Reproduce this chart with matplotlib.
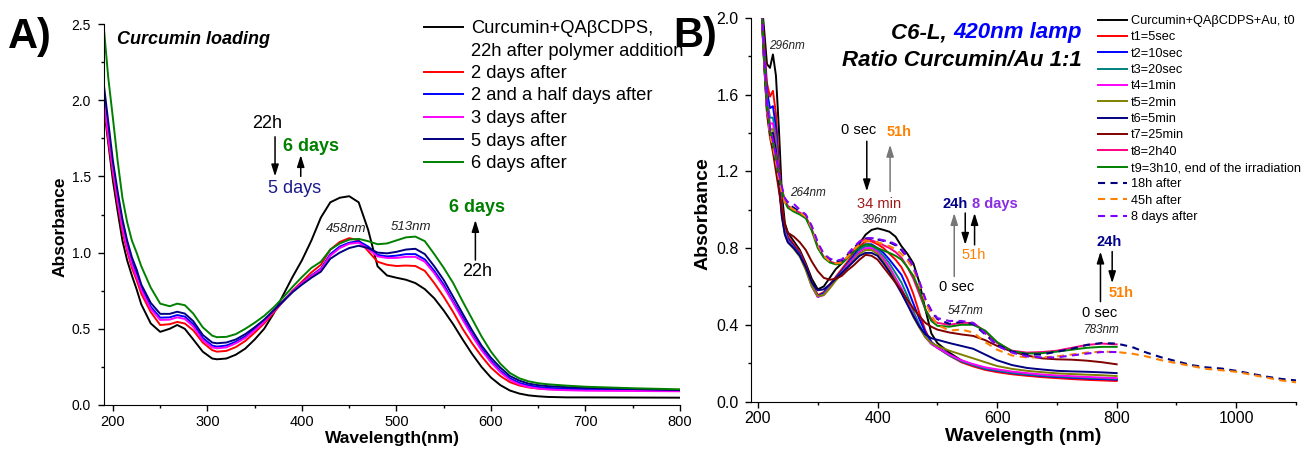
import matplotlib
matplotlib.use("Agg")
import matplotlib.pyplot as plt
from matplotlib.lines import Line2D
from matplotlib.ticker import MultipleLocator, FormatStrFormatter

plt.rcParams['font.family'] = ['Liberation Sans', 'DejaVu Sans']

# ---------------- panel A data ----------------
wl_a = [190, 195, 200, 205, 210, 215, 220, 225, 230, 240, 250, 260, 268, 276, 285, 295, 305, 310,
        320, 330, 340, 350, 360, 370, 380, 390, 400, 410, 420, 430, 440, 450, 460, 470, 480, 490, 500,
        510, 520, 530, 540, 550, 560, 570, 580, 590, 600, 610, 620, 630, 640, 650, 660, 680, 700, 750, 800]

a_22h = [1.98, 1.72, 1.47, 1.27, 1.08, 0.95, 0.85, 0.76, 0.66, 0.535, 0.48, 0.50, 0.525, 0.50, 0.43, 0.35, 0.305, 0.30,
         0.305, 0.33, 0.37, 0.43, 0.50, 0.60, 0.72, 0.84, 0.95, 1.08, 1.23, 1.33, 1.36, 1.37, 1.33, 1.15, 0.91, 0.85, 0.835,
         0.822, 0.80, 0.76, 0.70, 0.62, 0.53, 0.43, 0.335, 0.25, 0.18, 0.13, 0.095, 0.075, 0.063, 0.057, 0.053, 0.05, 0.05, 0.049, 0.048]
a_2d = [2.00, 1.74, 1.52, 1.32, 1.14, 1.01, 0.90, 0.82, 0.73, 0.61, 0.525, 0.53, 0.545, 0.535, 0.49, 0.41, 0.36, 0.35,
        0.355, 0.38, 0.42, 0.475, 0.535, 0.605, 0.68, 0.75, 0.81, 0.87, 0.92, 1.02, 1.07, 1.095, 1.08, 1.01, 0.94, 0.92, 0.912,
        0.915, 0.912, 0.88, 0.80, 0.71, 0.61, 0.50, 0.405, 0.32, 0.245, 0.19, 0.15, 0.128, 0.115, 0.108, 0.104, 0.10, 0.098, 0.096, 0.094]
a_2_5d = [2.05, 1.80, 1.56, 1.36, 1.18, 1.05, 0.94, 0.86, 0.77, 0.645, 0.573, 0.575, 0.59, 0.58, 0.53, 0.44, 0.39, 0.383,
          0.39, 0.415, 0.45, 0.50, 0.555, 0.62, 0.68, 0.745, 0.80, 0.85, 0.895, 0.99, 1.04, 1.065, 1.075, 1.04, 0.985, 0.975, 0.98,
          0.99, 0.99, 0.955, 0.88, 0.79, 0.68, 0.575, 0.465, 0.37, 0.29, 0.225, 0.175, 0.145, 0.128, 0.118, 0.112, 0.107, 0.104, 0.10, 0.096]
a_3d = [2.02, 1.77, 1.54, 1.34, 1.16, 1.03, 0.92, 0.84, 0.755, 0.63, 0.558, 0.56, 0.575, 0.565, 0.515, 0.425, 0.378, 0.372,
        0.378, 0.405, 0.44, 0.49, 0.545, 0.615, 0.68, 0.745, 0.80, 0.845, 0.89, 0.98, 1.03, 1.058, 1.065, 1.025, 0.975, 0.965, 0.965,
        0.972, 0.972, 0.94, 0.865, 0.775, 0.67, 0.56, 0.455, 0.36, 0.28, 0.215, 0.165, 0.135, 0.118, 0.108, 0.102, 0.097, 0.094, 0.092, 0.09]
a_5d = [2.12, 1.86, 1.60, 1.40, 1.22, 1.08, 0.97, 0.89, 0.79, 0.67, 0.598, 0.598, 0.612, 0.60, 0.55, 0.46, 0.41, 0.405,
        0.41, 0.43, 0.465, 0.51, 0.56, 0.62, 0.68, 0.74, 0.79, 0.835, 0.875, 0.96, 1.00, 1.03, 1.045, 1.03, 1.00, 0.995, 1.005,
        1.02, 1.025, 0.99, 0.91, 0.82, 0.71, 0.60, 0.49, 0.39, 0.31, 0.245, 0.19, 0.16, 0.14, 0.13, 0.124, 0.117, 0.112, 0.105, 0.098]
a_6d = [2.50, 2.15, 1.88, 1.60, 1.36, 1.20, 1.08, 1.00, 0.91, 0.77, 0.665, 0.648, 0.665, 0.655, 0.60, 0.51, 0.455, 0.445,
        0.447, 0.465, 0.50, 0.54, 0.585, 0.64, 0.705, 0.775, 0.84, 0.90, 0.94, 1.02, 1.06, 1.085, 1.09, 1.075, 1.055, 1.06, 1.08,
        1.10, 1.105, 1.075, 0.99, 0.90, 0.80, 0.68, 0.565, 0.45, 0.35, 0.27, 0.21, 0.175, 0.155, 0.143, 0.136, 0.127, 0.12, 0.11, 0.103]

a_series = [a_22h, a_2d, a_2_5d, a_3d, a_5d, a_6d]
a_colors = ['#000000', '#ff0000', '#0000ff', '#ff00ff', '#000080', '#008000']
a_labels = ['Curcumin+QA\u03b2CDPS,', '2 days after', '2 and a half days after',
            '3 days after', '5 days after', '6 days after']

# ---------------- panel B data ----------------
wl_b = [205, 210, 215, 220, 225, 230, 235, 240, 245, 250, 260, 270, 280, 290, 300, 310, 320, 330, 340,
        350, 360, 370, 380, 390, 400, 410, 420, 430, 440, 450, 460, 470, 480, 490, 500,
        520, 540, 560, 580, 600, 625, 650, 675, 700, 725, 750, 775, 800]
wl_b_ext = [825, 850, 875, 900, 925, 950, 975, 1000, 1025, 1050, 1075, 1100]

b_t0 = [2.12, 1.95, 1.76, 1.74, 1.81, 1.70, 1.42, 1.08, 0.93, 0.88, 0.835, 0.79, 0.72, 0.64, 0.585, 0.60, 0.645, 0.69, 0.72,
        0.75, 0.785, 0.825, 0.87, 0.895, 0.903, 0.895, 0.885, 0.86, 0.81, 0.77, 0.72, 0.62, 0.48, 0.355, 0.305,
        0.255, 0.215, 0.19, 0.175, 0.163, 0.152, 0.143, 0.136, 0.131, 0.126, 0.122, 0.118, 0.115]
b_t1 = [2.10, 1.88, 1.66, 1.59, 1.62, 1.50, 1.25, 1.02, 0.91, 0.86, 0.82, 0.78, 0.71, 0.62, 0.555, 0.57, 0.61, 0.65, 0.69,
        0.73, 0.77, 0.81, 0.835, 0.835, 0.82, 0.80, 0.77, 0.74, 0.70, 0.64, 0.56, 0.46, 0.37, 0.31, 0.28,
        0.24, 0.205, 0.183, 0.165, 0.153, 0.142, 0.134, 0.127, 0.122, 0.117, 0.113, 0.11, 0.107]
b_t2 = [2.10, 1.85, 1.62, 1.53, 1.54, 1.43, 1.20, 1.00, 0.90, 0.85, 0.81, 0.77, 0.70, 0.61, 0.55, 0.565, 0.605, 0.645, 0.68,
        0.72, 0.76, 0.80, 0.82, 0.82, 0.80, 0.775, 0.74, 0.70, 0.66, 0.59, 0.51, 0.43, 0.36, 0.31, 0.285,
        0.245, 0.21, 0.19, 0.17, 0.16, 0.148, 0.14, 0.133, 0.128, 0.124, 0.12, 0.117, 0.114]
b_t3 = [2.10, 1.83, 1.58, 1.48, 1.48, 1.38, 1.18, 0.99, 0.89, 0.84, 0.805, 0.765, 0.695, 0.605, 0.545, 0.56, 0.60, 0.64, 0.675,
        0.715, 0.75, 0.79, 0.81, 0.81, 0.79, 0.76, 0.72, 0.67, 0.62, 0.55, 0.47, 0.40, 0.34, 0.30, 0.28,
        0.24, 0.21, 0.19, 0.172, 0.162, 0.15, 0.142, 0.136, 0.131, 0.127, 0.124, 0.121, 0.118]
b_t4 = [2.10, 1.82, 1.56, 1.45, 1.45, 1.35, 1.16, 0.98, 0.88, 0.835, 0.80, 0.76, 0.69, 0.60, 0.545, 0.555, 0.595, 0.635, 0.67,
        0.71, 0.745, 0.78, 0.80, 0.80, 0.78, 0.745, 0.70, 0.645, 0.59, 0.52, 0.45, 0.39, 0.335, 0.30, 0.28,
        0.245, 0.215, 0.195, 0.178, 0.168, 0.156, 0.148, 0.141, 0.136, 0.132, 0.128, 0.125, 0.122]
b_t5 = [2.10, 1.80, 1.54, 1.42, 1.42, 1.33, 1.14, 0.97, 0.87, 0.83, 0.795, 0.755, 0.685, 0.60, 0.55, 0.555, 0.59, 0.63, 0.665,
        0.70, 0.735, 0.77, 0.79, 0.79, 0.77, 0.73, 0.685, 0.63, 0.57, 0.51, 0.44, 0.385, 0.335, 0.305, 0.29,
        0.265, 0.245, 0.225, 0.205, 0.185, 0.17, 0.16, 0.153, 0.147, 0.143, 0.14, 0.137, 0.133]
b_t6 = [2.10, 1.78, 1.52, 1.40, 1.40, 1.31, 1.13, 0.96, 0.87, 0.83, 0.80, 0.76, 0.70, 0.62, 0.58, 0.585, 0.61, 0.64, 0.67,
        0.70, 0.73, 0.76, 0.775, 0.775, 0.76, 0.72, 0.675, 0.62, 0.565, 0.505, 0.445, 0.39, 0.35, 0.33, 0.322,
        0.305, 0.29, 0.275, 0.245, 0.215, 0.19, 0.175, 0.167, 0.16, 0.157, 0.155, 0.152, 0.148]
b_t7 = [2.10, 1.78, 1.50, 1.38, 1.30, 1.20, 1.10, 1.00, 0.92, 0.88, 0.86, 0.83, 0.79, 0.73, 0.68, 0.645, 0.635, 0.64, 0.655,
        0.685, 0.71, 0.74, 0.765, 0.76, 0.74, 0.70, 0.66, 0.62, 0.58, 0.53, 0.485, 0.445, 0.41, 0.39, 0.375,
        0.36, 0.35, 0.342, 0.32, 0.29, 0.26, 0.24, 0.225, 0.22, 0.218, 0.213, 0.205, 0.194]
b_t8 = [2.10, 1.80, 1.55, 1.42, 1.36, 1.28, 1.19, 1.11, 1.05, 1.02, 1.00, 0.985, 0.965, 0.90, 0.81, 0.755, 0.73, 0.72, 0.725,
        0.755, 0.79, 0.83, 0.848, 0.84, 0.83, 0.815, 0.80, 0.78, 0.75, 0.70, 0.64, 0.56, 0.48, 0.43, 0.41,
        0.40, 0.41, 0.41, 0.365, 0.305, 0.265, 0.255, 0.258, 0.265, 0.28, 0.295, 0.302, 0.298]
b_t9 = [2.10, 1.80, 1.54, 1.41, 1.35, 1.27, 1.18, 1.10, 1.04, 1.01, 0.99, 0.975, 0.955, 0.89, 0.80, 0.75, 0.725, 0.715, 0.72,
        0.75, 0.78, 0.805, 0.82, 0.815, 0.80, 0.787, 0.775, 0.76, 0.74, 0.70, 0.655, 0.58, 0.48, 0.42, 0.395,
        0.39, 0.40, 0.40, 0.37, 0.31, 0.262, 0.25, 0.252, 0.26, 0.27, 0.28, 0.285, 0.285]
b_18h = [2.10, 1.80, 1.53, 1.40, 1.34, 1.26, 1.17, 1.10, 1.05, 1.03, 1.01, 0.99, 0.97, 0.91, 0.82, 0.765, 0.74, 0.73, 0.735,
         0.765, 0.80, 0.83, 0.85, 0.85, 0.845, 0.838, 0.83, 0.815, 0.79, 0.75, 0.70, 0.62, 0.53, 0.47, 0.43,
         0.405, 0.415, 0.405, 0.35, 0.295, 0.26, 0.245, 0.245, 0.26, 0.275, 0.295, 0.305, 0.302,
         0.285, 0.255, 0.23, 0.21, 0.19, 0.178, 0.172, 0.16, 0.145, 0.13, 0.118, 0.11]
b_45h = [2.10, 1.80, 1.52, 1.39, 1.33, 1.25, 1.16, 1.09, 1.04, 1.02, 1.00, 0.985, 0.965, 0.905, 0.815, 0.76, 0.73, 0.72, 0.725,
         0.755, 0.79, 0.82, 0.84, 0.835, 0.83, 0.82, 0.81, 0.795, 0.77, 0.735, 0.69, 0.61, 0.52, 0.45, 0.40,
         0.37, 0.375, 0.36, 0.31, 0.27, 0.24, 0.23, 0.23, 0.235, 0.245, 0.255, 0.26, 0.258,
         0.25, 0.235, 0.215, 0.20, 0.185, 0.17, 0.163, 0.155, 0.14, 0.125, 0.11, 0.10]
b_8d = [2.10, 1.82, 1.55, 1.42, 1.36, 1.28, 1.19, 1.12, 1.06, 1.04, 1.03, 1.00, 0.975, 0.915, 0.83, 0.77, 0.745, 0.735, 0.74,
        0.77, 0.805, 0.835, 0.852, 0.852, 0.848, 0.84, 0.835, 0.82, 0.795, 0.755, 0.705, 0.625, 0.535, 0.475, 0.435,
        0.42, 0.42, 0.41, 0.355, 0.29, 0.255, 0.235, 0.23, 0.23, 0.24, 0.25, 0.258, 0.258]

b_solid = [b_t0, b_t1, b_t2, b_t3, b_t4, b_t5, b_t6, b_t7, b_t8, b_t9]
b_solid_colors = ['#000000', '#ff0000', '#0000ff', '#008080', '#ff00ff', '#808000',
                  '#000080', '#800000', '#ff0080', '#008000']
b_solid_labels = ['Curcumin+QA\u03b2CDPS+Au, t0', 't1=5sec', 't2=10sec', 't3=20sec', 't4=1min',
                  't5=2min', 't6=5min', 't7=25min', 't8=2h40', 't9=3h10, end of the irradiation']
b_dash_colors = ['#000080', '#ff8000', '#8000ff']
b_dash_labels = ['18h after', '45h after', '8 days after']

fig = plt.figure(figsize=(13.01, 4.5), dpi=100)
ax_a = fig.add_axes([103.5 / 1301, 1 - 405 / 450, 576.5 / 1301, 381 / 450])
ax_b = fig.add_axes([751 / 1301, 1 - 401.5 / 450, 545 / 1301, 383.5 / 450])

for ax in (ax_a, ax_b):
    ax.spines['top'].set_visible(False)
    ax.spines['right'].set_visible(False)
    ax.tick_params(which='major', direction='out', length=4, width=1)
    ax.tick_params(which='minor', direction='out', length=2.5, width=1)
    ax.tick_params(axis='x', which='major', pad=3)
    ax.tick_params(axis='y', which='major', pad=5)

# ---- panel A ----
lines_a = []
for ys, c, lab in zip(a_series, a_colors, a_labels):
    ln, = ax_a.plot(wl_a, ys, color=c, lw=1.4, label=lab)
    lines_a.append(ln)
ax_a.set_xlim(190, 800)
ax_a.set_ylim(0, 2.5)
ax_a.xaxis.set_major_locator(MultipleLocator(100))
ax_a.xaxis.set_minor_locator(MultipleLocator(50))
ax_a.yaxis.set_major_locator(MultipleLocator(0.5))
ax_a.yaxis.set_minor_locator(MultipleLocator(0.25))
ax_a.yaxis.set_major_formatter(FormatStrFormatter('%.1f'))
ax_a.tick_params(axis='x', labelsize=10.5)
ax_a.tick_params(axis='y', labelsize=10)
ax_a.set_xlabel('Wavelength(nm)', fontsize=12.5, fontweight='bold')
ax_a.set_ylabel('Absorbance', fontsize=12.5, fontweight='bold')
ax_a.xaxis.set_label_coords(0.502, -0.068)
ax_a.yaxis.set_label_coords(-0.063, 0.467)

blank = Line2D([], [], color='none')
handles_a = [lines_a[0], blank] + lines_a[1:]
labels_a = [a_labels[0], '22h after polymer addition'] + a_labels[1:]
ax_a.legend(handles_a, labels_a, loc='upper left', bbox_to_anchor=(424 / 1301, 1 - 20 / 450),
            bbox_transform=fig.transFigure, frameon=False, fontsize=13.2, handlelength=2.15,
            handletextpad=0.42, labelspacing=0.3, borderpad=0, borderaxespad=0)

ax_a.text(204.3, 2.40, 'Curcumin loading', fontsize=13, fontweight='bold', fontstyle='italic',
          ha='left', va='center')
ax_a.text(362.7, 1.85, '22h', fontsize=13, ha='center', va='center')
ax_a.text(409.6, 1.695, '6 days', fontsize=13, fontweight='bold', color='#008000', ha='center', va='center')
ax_a.text(392.6, 1.42, '5 days', fontsize=13, color='#1a1a8c', ha='center', va='center')
ax_a.text(446.3, 1.155, '458nm', fontsize=9.5, fontstyle='italic', color='#222222', ha='center', va='center')
ax_a.text(515, 1.17, '513nm', fontsize=9.5, fontstyle='italic', color='#222222', ha='center', va='center')
ax_a.text(585, 1.297, '6 days', fontsize=13, fontweight='bold', color='#008000', ha='center', va='center')
ax_a.text(585, 0.875, '22h', fontsize=13, ha='center', va='center')

arrow_kw = dict(arrowstyle='-|>,head_width=0.22,head_length=0.7', lw=1.1, shrinkA=0, shrinkB=0)
ax_a.annotate('', xy=(371.5, 1.50), xytext=(371.5, 1.76), arrowprops=dict(color='black', **arrow_kw))
ax_a.annotate('', xy=(398.7, 1.64), xytext=(398.7, 1.50), arrowprops=dict(color='black', **arrow_kw))
ax_a.annotate('', xy=(583.5, 1.214), xytext=(583.5, 0.951), arrowprops=dict(color='black', **arrow_kw))

# ---- panel B ----
lines_b = []
for ys, c, lab in zip(b_solid, b_solid_colors, b_solid_labels):
    ln, = ax_b.plot(wl_b, ys, color=c, lw=1.4, label=lab)
    lines_b.append(ln)
dash = (3.4, 2.6)
ln, = ax_b.plot(wl_b + wl_b_ext, b_18h, color=b_dash_colors[0], lw=1.5, dashes=dash, label=b_dash_labels[0])
lines_b.append(ln)
ln, = ax_b.plot(wl_b + wl_b_ext, b_45h, color=b_dash_colors[1], lw=1.5, dashes=dash, label=b_dash_labels[1])
lines_b.append(ln)
ln, = ax_b.plot(wl_b, b_8d, color=b_dash_colors[2], lw=1.5, dashes=dash, label=b_dash_labels[2])
lines_b.append(ln)

ax_b.set_xlim(188.3, 1100)
ax_b.set_ylim(0, 2.0)
ax_b.xaxis.set_major_locator(MultipleLocator(200))
ax_b.xaxis.set_minor_locator(MultipleLocator(100))
ax_b.yaxis.set_major_locator(MultipleLocator(0.4))
ax_b.yaxis.set_minor_locator(MultipleLocator(0.2))
ax_b.yaxis.set_major_formatter(FormatStrFormatter('%.1f'))
ax_b.tick_params(axis='both', labelsize=11.5)
ax_b.set_xlabel('Wavelength (nm)', fontsize=14, fontweight='bold')
ax_b.set_ylabel('Absorbance', fontsize=14, fontweight='bold')
ax_b.xaxis.set_label_coords(0.499, -0.069)
ax_b.yaxis.set_label_coords(-0.0716, 0.49)

ax_b.legend(lines_b, b_solid_labels + b_dash_labels, loc='upper left',
            bbox_to_anchor=(1098 / 1301, 1 - 15 / 450), bbox_transform=fig.transFigure,
            frameon=False, fontsize=9.2, handlelength=2.3, handletextpad=0.3,
            labelspacing=0.34, borderpad=0, borderaxespad=0)

blue_t = ax_b.text(741, 1.924, '420nm lamp', fontsize=16, fontweight='bold', fontstyle='italic',
                   color='#0000ff', ha='right', va='center')
ax_b.annotate('C6-L, ', xy=(0, 0), xycoords=blue_t, ha='right', va='bottom',
              fontsize=16, fontweight='bold', fontstyle='italic', color='black')
ax_b.text(741, 1.778, 'Ratio Curcumin/Au 1:1', fontsize=16, fontweight='bold', fontstyle='italic',
          ha='right', va='center')

nm_kw = dict(fontsize=8.5, fontstyle='italic', color='#222222', ha='center', va='center')
ax_b.text(248, 1.853, '296nm', **nm_kw)
ax_b.text(284.3, 1.087, '264nm', **nm_kw)
ax_b.text(403.2, 0.944, '396nm', **nm_kw)
ax_b.text(548, 0.474, '547nm', **nm_kw)
ax_b.text(775.7, 0.373, '783nm', **nm_kw)

ax_b.text(368, 1.418, '0 sec', fontsize=10.5, ha='center', va='center')
ax_b.text(436.2, 1.406, '51h', fontsize=10.5, fontweight='bold', color='#ff8000', ha='center', va='center')
ax_b.text(403.2, 1.031, '34 min', fontsize=10.5, color='#a01818', ha='center', va='center')
ax_b.text(530, 1.03, '24h', fontsize=10.5, fontweight='bold', color='#00008b', ha='center', va='center')
ax_b.text(597, 1.03, '8 days', fontsize=10.5, fontweight='bold', color='#8a2be2', ha='center', va='center')
ax_b.text(560.6, 0.763, '51h', fontsize=10.5, color='#ff8000', ha='center', va='center')
ax_b.text(532.8, 0.596, '0 sec', fontsize=10.5, ha='center', va='center')
ax_b.text(786.8, 0.831, '24h', fontsize=10.5, fontweight='bold', color='#00008b', ha='center', va='center')
ax_b.text(807.5, 0.565, '51h', fontsize=10.5, fontweight='bold', color='#ff8000', ha='center', va='center')
ax_b.text(771.2, 0.464, '0 sec', fontsize=10.5, ha='center', va='center')

ax_b.annotate('', xy=(382, 1.096), xytext=(382, 1.357), arrowprops=dict(color='black', **arrow_kw))
ax_b.annotate('', xy=(421, 1.339), xytext=(421, 1.096), arrowprops=dict(color='#777777', **arrow_kw))
ax_b.annotate('', xy=(528.3, 0.983), xytext=(528.3, 0.652), arrowprops=dict(color='#777777', **arrow_kw))
ax_b.annotate('', xy=(546.7, 0.817), xytext=(546.7, 0.983), arrowprops=dict(color='black', **arrow_kw))
ax_b.annotate('', xy=(562.3, 0.983), xytext=(562.3, 0.817), arrowprops=dict(color='black', **arrow_kw))
ax_b.annotate('', xy=(772.9, 0.782), xytext=(772.9, 0.521), arrowprops=dict(color='black', **arrow_kw))
ax_b.annotate('', xy=(792.5, 0.617), xytext=(792.5, 0.782), arrowprops=dict(color='black', **arrow_kw))

fig.text(8 / 1301, 1 - 48 / 450, 'A)', fontsize=30, fontweight='bold', ha='left', va='baseline')
fig.text(673 / 1301, 1 - 47 / 450, 'B)', fontsize=30, fontweight='bold', ha='left', va='baseline')

fig.savefig('out.png', dpi=100)
